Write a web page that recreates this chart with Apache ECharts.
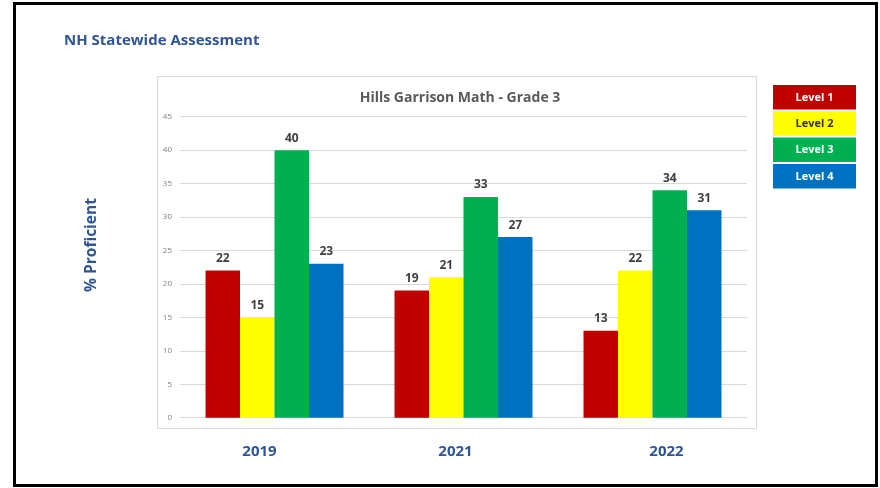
<!DOCTYPE html>
<html><head><meta charset="utf-8">
<script src="https://cdn.jsdelivr.net/npm/echarts@6/dist/echarts.min.js"></script>
<style>html,body{margin:0;padding:0;background:#fff}#c{width:880px;height:488px}</style>
</head><body><div id="c"></div>
<script>
const categories = ['2019', '2021', '2022'];
const seriesNames = ['Level 1', 'Level 2', 'Level 3', 'Level 4'];
const level1 = [22, 19, 13];
const level2 = [15, 21, 22];
const level3 = [40, 33, 34];
const level4 = [23, 27, 31];
const yTicks = [0, 5, 10, 15, 20, 25, 30, 35, 40, 45];

const colors = ['#C00000', '#FFFF00', '#00B050', '#0070C0'];
const legendText = ['#ffffff', '#333333', '#ffffff', '#ffffff'];
const values = [level1, level2, level3, level4];
const font = '"Open Sans", "Noto Sans", sans-serif';

const chart = echarts.init(document.getElementById('c'), null, {renderer: 'canvas'});

const legendGraphics = [];
seriesNames.forEach((n, i) => {
  const top = 85 + i * 26.3;
  legendGraphics.push({
    type: 'rect',
    shape: {x: 773, y: top, width: 83, height: 24.5},
    style: {fill: colors[i]}
  });
  legendGraphics.push({
    type: 'text',
    style: {
      text: n, fill: legendText[i], font: 'bold 11px ' + font,
      x: 773 + 41.5, y: top + 12.5, textAlign: 'center', textVerticalAlign: 'middle'
    }, z: 5
  });
});

const catLabelStyle = {color: '#2F5597', fontSize: 15, fontWeight: 'bold', fontFamily: font};

const option = {
  backgroundColor: '#ffffff',
  animation: false,
  title: {
    text: 'Hills Garrison Math - Grade 3',
    left: 455, top: 86, textAlign: 'center',
    textStyle: {color: '#595959', fontSize: 14, fontWeight: 'bold', fontFamily: font}
  },
  graphic: [
    {type: 'rect', shape: {x: 14.5, y: 3.5, width: 862, height: 482},
     style: {fill: 'none', stroke: '#000', lineWidth: 3}, z: 10},
    {type: 'rect', shape: {x: 157.5, y: 76.5, width: 599, height: 352},
     style: {fill: 'none', stroke: '#D9D9D9', lineWidth: 1}, z: -1},
    {type: 'text',
     style: {text: 'NH Statewide Assessment', fill: '#2F5597', font: 'bold 15px ' + font,
       x: 64, y: 41, textVerticalAlign: 'middle'}},
    {type: 'text', rotation: Math.PI / 2, x: 92, y: 245,
     style: {text: '% Proficient', fill: '#2F5597', font: 'bold 15.5px ' + font,
       x: 0, y: 0, textAlign: 'center', textVerticalAlign: 'middle'}},
    ...legendGraphics
  ],
  grid: {left: 180, right: 133, top: 116.7, bottom: 70.3},
  xAxis: {
    type: 'category', data: categories,
    axisLine: {show: true, lineStyle: {color: '#D9D9D9'}},
    axisTick: {show: false},
    axisLabel: {
      margin: 27, ...catLabelStyle,
      formatter: (v, i) => '{c' + i + '|' + v + '}',
      rich: {
        c0: {...catLabelStyle, padding: [0, 30, 0, 0]},
        c1: {...catLabelStyle, padding: [0, 16, 0, 0]},
        c2: {...catLabelStyle, padding: [0, 0, 0, 28]}
      }
    }
  },
  yAxis: {
    type: 'value', min: 0, max: 45, interval: 5,
    axisLabel: {color: '#808080', fontSize: 8, margin: 8, fontFamily: font,
      formatter: v => yTicks.includes(v) ? String(v) : ''},
    axisLine: {show: false}, axisTick: {show: false},
    splitLine: {lineStyle: {color: '#D9D9D9'}}
  },
  series: seriesNames.map((n, i) => ({
    name: n, type: 'bar', data: values[i],
    barGap: '0%', barCategoryGap: '27%',
    itemStyle: {color: colors[i]},
    label: {show: true, position: 'top', distance: 6, color: '#404040',
      fontSize: 12, fontWeight: 'bold', fontFamily: font}
  }))
};
chart.setOption(option);
</script></body></html>
